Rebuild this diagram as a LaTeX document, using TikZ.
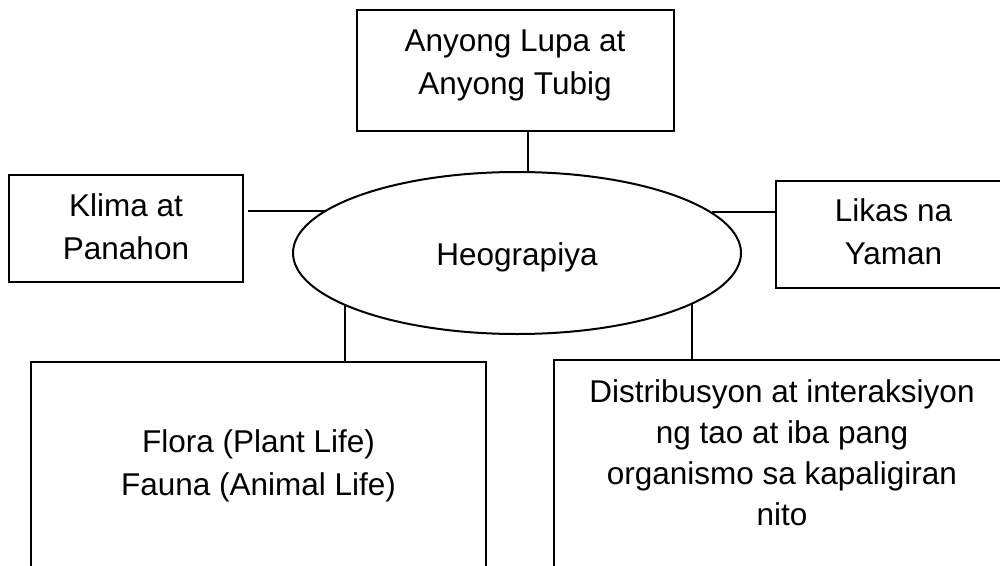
\documentclass[tikz,border=0pt]{standalone}
\usepackage{fontspec}
\setmainfont{Liberation Sans}
\usetikzlibrary{shapes.geometric}
\begin{document}
\begin{tikzpicture}[x=1pt,y=-1pt,
  box/.style={draw=black,line width=2.4pt,rectangle,inner sep=0pt},
  lbl/.style={anchor=base,align=center,inner sep=0pt,font=\fontsize{31.5}{43}\selectfont},
  conn/.style={draw=black,line width=2pt}]
\clip (0,0) rectangle (1000,565);
% boxes
\node[box,minimum width=317pt,minimum height=121pt] (top) at (515.5,70.5) {};
\node[box,minimum width=234pt,minimum height=107pt] (klima) at (126,228.5) {};
\node[box,minimum width=235pt,minimum height=107pt] (likas) at (893.5,234.5) {};
\node[box,minimum width=455pt,minimum height=218pt] (flora) at (258.5,471) {};
\node[box,minimum width=456pt,minimum height=220pt] (dist) at (782,470) {};
\node[draw=black,line width=2pt,ellipse,inner sep=0pt,minimum width=448pt,minimum height=162pt] (ell) at (517,253) {};
% texts (base anchor = baseline of last line)
\node[lbl] (topt) at (515,94) {Anyong Lupa at\\Anyong Tubig};
\node[lbl] (klimat) at (126,259) {Klima at\\Panahon};
\node[lbl] (likast) at (893.5,264) {Likas na\\Yaman};
\node[lbl] (ellt) at (517,265) {Heograpiya};
\node[lbl] (florat) at (258.5,495) {Flora (Plant Life)\\Fauna (Animal Life)};
\node[lbl,font=\fontsize{31.5}{41}\selectfont] (distt) at (782,525) {Distribusyon at interaksiyon\\ng tao at iba pang\\organismo sa kapaligiran\\nito};
% connectors
\draw[conn] ([xshift=12.5pt]top.south) -- ([xshift=11pt,yshift=80pt]ell.center);
\draw[conn] ([xshift=4pt,yshift=17.5pt]klima.east) -- ([xshift=-191pt,yshift=42pt]ell.center);
\draw[conn] ([xshift=195pt,yshift=41pt]ell.center) -- ([yshift=22.5pt]likas.west);
\draw[conn] ([xshift=-172pt,yshift=-51pt]ell.center) -- ([xshift=86.5pt]flora.north);
\draw[conn] ([xshift=175pt,yshift=-50pt]ell.center) -- ([xshift=-90pt]dist.north);
\end{tikzpicture}
\end{document}
